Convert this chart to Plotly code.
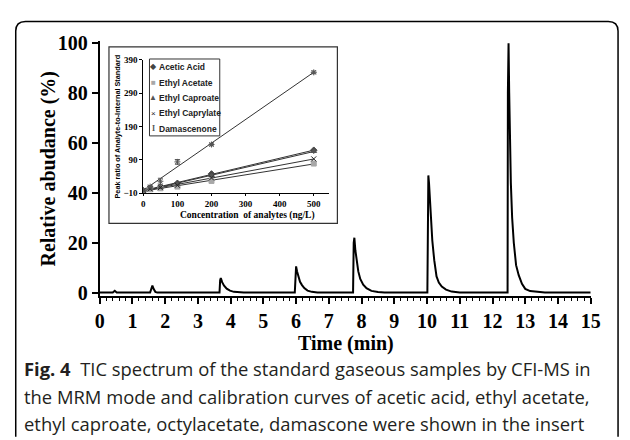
import plotly.graph_objects as go
import numpy as np

# ---------------- data ----------------
# TIC chromatogram (time in min, relative abundance in %)
time_min = [0.00, 0.40, 0.46, 0.52,
            1.54, 1.58, 1.61, 1.65, 1.70, 1.76,
            3.66, 3.68, 3.70, 3.74, 3.80, 3.88, 3.98, 4.10, 4.25, 4.40,
            5.96, 5.98, 6.00, 6.03, 6.07, 6.12, 6.18, 6.25, 6.35, 6.48, 6.65,
            7.74, 7.76, 7.78, 7.81, 7.85, 7.90, 7.96, 8.05, 8.15, 8.30, 8.50, 8.70,
            10.01, 10.02, 10.04, 10.06, 10.08, 10.12, 10.16, 10.22, 10.29, 10.36, 10.45, 10.58, 10.75, 11.00,
            12.46, 12.47, 12.49, 12.51, 12.53, 12.56, 12.60, 12.65, 12.72, 12.80, 12.90, 13.00, 13.15, 13.35, 13.60,
            15.00]
abundance = [0.0, 0.0, 0.7, 0.0,
             0.0, 2.0, 2.8, 1.4, 0.3, 0.0,
             0.0, 5.0, 5.8, 4.2, 2.8, 1.6, 0.8, 0.3, 0.05, 0.0,
             0.0, 9.5, 10.5, 8.5, 6.0, 4.3, 3.0, 1.8, 0.8, 0.3, 0.0,
             0.0, 20.0, 22.0, 17.0, 12.5, 8.5, 5.5, 3.2, 1.8, 0.7, 0.2, 0.0,
             0.0, 40.0, 47.0, 44.0, 39.0, 30.0, 21.0, 13.0, 6.5, 4.0, 2.4, 1.2, 0.4, 0.0,
             0.0, 80.0, 100.0, 80.0, 62.0, 44.0, 30.0, 20.0, 11.0, 7.0, 3.5, 1.5, 0.6, 0.2, 0.0,
             0.0]

# Inset calibration data
conc = [0, 20, 50, 100, 200, 500]
acetic_acid = [-2, 5, 9, 20, 48, 119]
ethyl_acetate = [-3, 2, 5, 10, 27, 79]
ethyl_caproate = [-2, 4, 8, 17, 43, 116]
ethyl_caprylate = [-2, 3, 7, 14, 36, 93]
damascenone = [0, 10, 26, 84, 136, 352]
damascenone_err = [3, 3, 9, 7, 4, 4]

series_names = ["Acetic Acid", "Ethyl Acetate", "Ethyl Caproate", "Ethyl Caprylate", "Damascenone"]
series_values = [acetic_acid, ethyl_acetate, ethyl_caproate, ethyl_caprylate, damascenone]
series_symbols = ["diamond", "square", "triangle-up", "x-thin-open", "asterisk-open"]
series_colors = ["#444444", "#a8a8a8", "#555555", "#222222", "#555555"]
legend_glyphs = ["◆", "■", "▲", "×", "I"]

main_xticks = list(range(0, 16))
main_yticks = [0, 20, 40, 60, 80, 100]
inset_xticks = [0, 100, 200, 300, 400, 500]
inset_yticks = [-10, 90, 190, 290, 390]

# ---------------- helpers (pixel -> paper) ----------------
W, H = 630, 440
def X(p):
    return p / W
def Y(p):
    return 1 - p / H

SERIF = "Liberation Serif, Times New Roman, serif"
SANS = "Liberation Sans, Arial, sans-serif"

fig = go.Figure()

# main chromatogram
fig.add_trace(go.Scatter(x=time_min, y=abundance, mode="lines",
                         line=dict(color="black", width=2),
                         xaxis="x", yaxis="y", showlegend=False, hoverinfo="skip"))

# inset: fitted lines + markers
cx = np.array(conc, dtype=float)
for name, vals, sym, col in zip(series_names, series_values, series_symbols, series_colors):
    k, b = np.polyfit(cx, np.array(vals, dtype=float), 1)
    xs = [min(conc), max(conc)]
    fig.add_trace(go.Scatter(x=xs, y=[k * v + b for v in xs], mode="lines",
                             line=dict(color="#333333", width=1),
                             xaxis="x2", yaxis="y2", showlegend=False, hoverinfo="skip"))
for name, vals, sym, col in zip(series_names, series_values, series_symbols, series_colors):
    kw = {}
    if name == "Damascenone":
        kw["error_y"] = dict(type="data", array=damascenone_err, color="#555555",
                             thickness=1, width=2.5)
    fig.add_trace(go.Scatter(x=conc, y=vals, mode="markers", name=name,
                             marker=dict(symbol=sym, size=5, color=col,
                                         line=dict(color=col, width=1)),
                             xaxis="x2", yaxis="y2", showlegend=False, **kw))

shapes = []
# outer rounded frame
r = 10
frame = (f"M {X(11)},{Y(445)} L {X(11)},{Y(13 + r)} "
         f"Q {X(11)},{Y(13)} {X(11 + r)},{Y(13)} "
         f"L {X(628 - r)},{Y(13)} Q {X(628)},{Y(13)} {X(628)},{Y(13 + r)} "
         f"L {X(628)},{Y(445)}")
shapes.append(dict(type="path", path=frame, xref="paper", yref="paper",
                   line=dict(color="black", width=1.5), layer="above"))
# inset frame
shapes.append(dict(type="rect", xref="paper", yref="paper",
                   x0=X(106.5), x1=X(340.5), y0=Y(223), y1=Y(39.5),
                   line=dict(color="#333333", width=1.2), fillcolor="white", layer="below"))
# legend box
shapes.append(dict(type="rect", xref="paper", yref="paper",
                   x0=X(148), x1=X(220), y0=Y(132), y1=Y(52),
                   line=dict(color="#333333", width=1), fillcolor="white", layer="above"))

annotations = []
# main axis titles
annotations.append(dict(text="<b>Time (min)</b>", x=X(349), y=Y(348), xref="paper", yref="paper",
                        showarrow=False, xanchor="center", yanchor="middle",
                        font=dict(family=SERIF, size=20, color="black")))
annotations.append(dict(text="<b>Relative abudance (%)</b>", x=X(45), y=Y(166), xref="paper", yref="paper",
                        showarrow=False, xanchor="center", yanchor="middle", textangle=-90,
                        font=dict(family=SERIF, size=20, color="black")))
# inset axis titles
annotations.append(dict(text="<b>Concentration  of analytes (ng/L)</b>", x=X(248), y=Y(214.5),
                        xref="paper", yref="paper", showarrow=False, xanchor="center", yanchor="middle",
                        font=dict(family=SERIF, size=9.5, color="black")))
annotations.append(dict(text="<b>Peak ratio of Analyte-to-Internal Standard</b>", x=X(115), y=Y(122),
                        xref="paper", yref="paper", showarrow=False, xanchor="center", yanchor="middle",
                        textangle=-90, font=dict(family=SANS, size=7.3, color="black")))
# legend entries
leg_y = [60, 76.5, 92.5, 108.5, 124.5]
for name, glyph, col, ly in zip(series_names, legend_glyphs, series_colors, leg_y):
    gfont = dict(family=SERIF if glyph == "I" else SANS, size=8, color=col)
    annotations.append(dict(text=("<b>I</b>" if glyph == "I" else glyph), x=X(152), y=Y(ly),
                            xref="paper", yref="paper", showarrow=False,
                            xanchor="center", yanchor="middle", font=gfont))
    annotations.append(dict(text=f"<b>{name}</b>", x=X(156), y=Y(ly), xref="paper", yref="paper",
                            showarrow=False, xanchor="left", yanchor="middle",
                            font=dict(family=SANS, size=8.5, color="#222222")))
# caption
CAP = "Open Sans, Noto Sans, sans-serif"
cap_lines = ["<b>Fig. 4</b>  TIC spectrum of the standard gaseous samples by CFI-MS in",
             "the MRM mode and calibration curves of acetic acid, ethyl acetate,",
             "ethyl caproate, octylacetate, damascone were shown in the insert"]
for line, cy in zip(cap_lines, [374, 403, 431]):
    annotations.append(dict(text=line, x=X(17), y=Y(cy), xref="paper", yref="paper",
                            showarrow=False, xanchor="left", yanchor="middle",
                            font=dict(family=CAP, size=18.4, color="#231f20")))

big_tick = dict(family=SERIF, size=20, color="black", weight="bold")
small_tick = dict(family=SERIF, size=9, color="black", weight="bold")

fig.update_layout(
    width=W, height=H, autosize=False,
    margin=dict(l=0, r=0, t=0, b=0),
    paper_bgcolor="white", plot_bgcolor="rgba(0,0,0,0)",
    showlegend=False,
    xaxis=dict(domain=[X(97), X(600)], range=[0, 15], anchor="y",
               tickvals=main_xticks, ticks="outside", ticklen=6, tickwidth=1.5, tickcolor="black",
               minor=dict(dtick=0.2, ticks="outside", ticklen=3, tickwidth=1, tickcolor="black"),
               showline=True, linecolor="black", linewidth=2, showgrid=False, zeroline=False,
               tickfont=big_tick),
    yaxis=dict(domain=[Y(298.3), Y(33.8)], range=[-1.27, 100.7], anchor="x",
               tickvals=main_yticks, ticks="outside", ticklen=6, tickwidth=1.5, tickcolor="black",
               showline=True, linecolor="black", linewidth=2, showgrid=False, zeroline=False,
               tickfont=big_tick),
    xaxis2=dict(domain=[X(141.7), X(332)], range=[0, 545], anchor="y2",
                tickvals=inset_xticks, ticks="outside", ticklen=2, tickcolor="black",
                showline=True, linecolor="black", linewidth=1, showgrid=False, zeroline=False,
                tickfont=small_tick),
    yaxis2=dict(domain=[Y(191.7), Y(52.7)], range=[-10, 390], anchor="x2",
                tickvals=inset_yticks, ticks="outside", ticklen=3, tickcolor="black",
                showline=True, linecolor="black", linewidth=1, showgrid=False, zeroline=False,
                tickfont=small_tick),
    shapes=shapes, annotations=annotations,
)

fig.write_html("out.html")
